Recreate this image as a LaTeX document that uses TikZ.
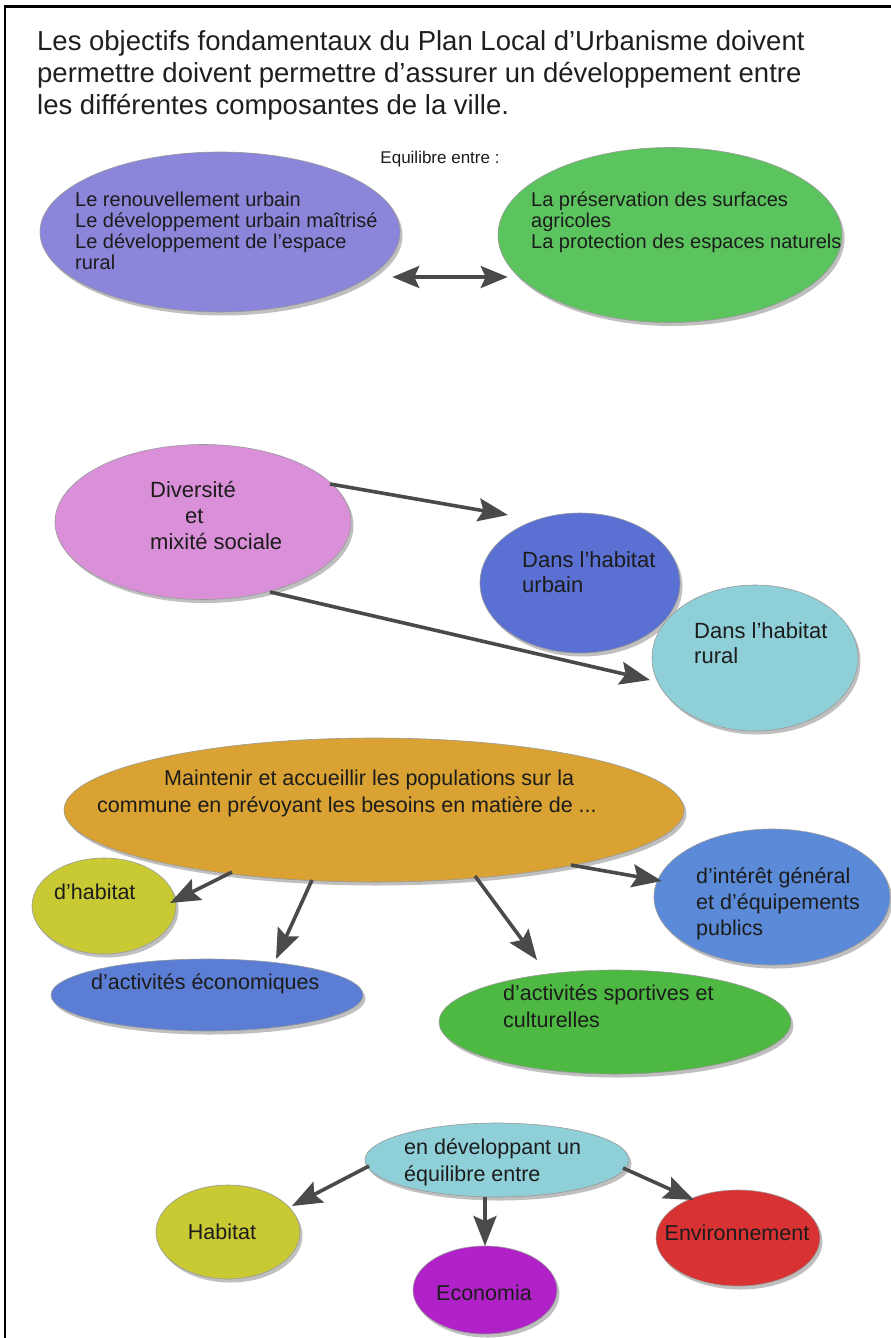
\documentclass[tikz,border=0pt]{standalone}
\usepackage{fontspec}
\setmainfont{Liberation Sans}
\usetikzlibrary{shapes.geometric,arrows.meta,calc,shadows}
\definecolor{cPurple}{HTML}{8C86DA}
\definecolor{cGreen}{HTML}{5CC45E}
\definecolor{cPink}{HTML}{D990D8}
\definecolor{cBlueA}{HTML}{5A70D2}
\definecolor{cCyan}{HTML}{8FD0D8}
\definecolor{cOrange}{HTML}{D9A232}
\definecolor{cYellow}{HTML}{C9C934}
\definecolor{cBlueB}{HTML}{5B7ED4}
\definecolor{cGreenB}{HTML}{4DB842}
\definecolor{cBlueC}{HTML}{5B8AD8}
\definecolor{cViolet}{HTML}{B022C8}
\definecolor{cRed}{HTML}{D83232}
\definecolor{cArrow}{HTML}{4A4A4A}
\definecolor{cText}{HTML}{1C1C1C}
\newcommand\setfs[2]{\fontsize{#1}{#2}\selectfont\lineskiplimit=-40pt\relax}
\newcommand\fst{\rule{0pt}{1em}}
\tikzset{
  bubble/.style={ellipse, draw=black!40, line width=0.6pt, inner sep=0pt,
    drop shadow={shadow xshift=2.5pt, shadow yshift=-3.5pt, opacity=0.25, fill=black}},
  tx/.style={inner sep=0pt, align=left, text=cText, anchor=north west},
  tx1/.style={inner sep=0pt, text=cText, anchor=base west, font=\setfs{21.5}{26}},
  arr/.style={draw=cArrow, line width=3.6pt, -{Stealth[length=30pt,width=23pt,inset=5pt]}},
  dblarr/.style={draw=cArrow, line width=3.8pt, {Stealth[length=27pt,width=22pt,inset=5pt]}-{Stealth[length=27pt,width=22pt,inset=5pt]}}
}
\begin{document}
\begin{tikzpicture}[x=1pt,y=-1pt]
\useasboundingbox (0,0) rectangle (891,1338);
\fill[white] (0,0) rectangle (891,1338);
\draw[line width=2.2pt] (5,1338) -- (5,6.5) -- (891,6.5);

% title
\node[tx, font=\setfs{27.5}{32}, text=black!88] (title) at (37,23)
 {\fst Les objectifs fondamentaux du Plan Local d’Urbanisme doivent\\
  permettre doivent permettre d’assurer un développement entre\\
  les différentes composantes de la ville.};

\node[inner sep=0pt, anchor=base, font=\setfs{17}{20}, text=cText] (eq) at (440,163) {Equilibre entre :};

% block 1
\node[bubble, fill=cPurple, minimum width=360pt, minimum height=160pt] (purple) at (220,232) {};
\node[tx, font=\setfs{20}{21}] (purpletxt) at (75,186)
 {\fst Le renouvellement urbain\\Le développement urbain maîtrisé\\Le développement de l’espace\\rural};
\node[bubble, fill=cGreen, minimum width=344pt, minimum height=175pt] (green) at (670,235) {};
\node[tx, font=\setfs{20}{21}] (greentxt) at (531,186)
 {\fst La préservation des surfaces\\agricoles\\La protection des espaces naturels};
\draw[dblarr] ([yshift=-45pt,xshift=-8pt]purple.east) -- ([yshift=-42pt,xshift=10pt]green.west);

% block 2
\node[bubble, fill=cPink, minimum width=296pt, minimum height=155pt] (pink) at (203,522) {};
\node[tx, font=\setfs{22}{26}] (pinktxt) at (150,475)
 {\fst Diversité\\\hspace*{35pt}et\\mixité sociale};
\node[bubble, fill=cBlueA, minimum width=200pt, minimum height=140pt] (urbain) at (580,583) {};
\node[tx, font=\setfs{22}{25}] (urbaintxt) at (522,545) {\fst Dans l’habitat\\urbain};
\node[bubble, fill=cCyan, minimum width=206pt, minimum height=146pt] (rural) at (755,658) {};
\node[tx, font=\setfs{22}{25}] (ruraltxt) at (694,616) {\fst Dans l’habitat\\rural};
\draw[arr] ($(pink)+(127,-38)$) -- ($(urbain)+(-72,-68)$);
\draw[arr] ($(pink)+(67,70)$) -- ($(rural)+(-105,22)$);

% block 3
\node[bubble, fill=cOrange, minimum width=620pt, minimum height=144pt] (orange) at (374,810) {};
\node[tx, font=\setfs{21.5}{27}] (orangetxt) at (97,763.5)
 {\fst\hspace*{67pt}Maintenir et accueillir les populations sur la\\commune en prévoyant les besoins en matière de ...};
\node[bubble, fill=cYellow, minimum width=144pt, minimum height=96pt] (hab1) at (104,906) {};
\node[tx1] (hab1txt) at (54,899) {d’habitat};
\node[bubble, fill=cBlueB, minimum width=312pt, minimum height=72pt] (eco1) at (207,995) {};
\node[tx1] (eco1txt) at (91,989) {d’activités économiques};
\node[bubble, fill=cGreenB, minimum width=352pt, minimum height=104pt] (sport) at (615,1022) {};
\node[tx, font=\setfs{21.5}{27}] (sporttxt) at (503,978.5) {\fst d’activités sportives et\\culturelles};
\node[bubble, fill=cBlueC, minimum width=236pt, minimum height=136pt] (interet) at (772,897) {};
\node[tx, font=\setfs{21.5}{26}] (interettxt) at (696,861.5) {\fst d’intérêt général\\et d’équipements\\publics};
\draw[arr] ($(orange)+(-142,62)$) -- ($(hab1)+(66,-3)$);
\draw[arr] ($(orange)+(-62,70)$) -- ($(eco1)+(69,-36)$);
\draw[arr] ($(orange)+(101,66)$) -- ($(sport)+(-78,-62)$);
\draw[arr] ($(orange)+(197,55)$) -- ($(interet)+(-110,-16)$);

% block 4
\node[bubble, fill=cCyan, minimum width=264pt, minimum height=74pt] (endev) at (497,1160) {};
\node[tx, font=\setfs{21.5}{27}] (endevtxt) at (404,1132.5) {\fst en développant un\\équilibre entre};
\node[bubble, fill=cYellow, minimum width=144pt, minimum height=94pt] (hab2) at (228,1232) {};
\node[tx1, anchor=base] (hab2txt) at (222,1239) {Habitat};
\node[bubble, fill=cViolet, minimum width=144pt, minimum height=88pt] (economia) at (485,1290) {};
\node[tx1, anchor=base] (economiatxt) at (484,1300) {Economia};
\node[bubble, fill=cRed, minimum width=164pt, minimum height=96pt] (env) at (738,1238) {};
\node[tx1, anchor=base] (envtxt) at (737,1240) {Environnement};
\draw[arr] ($(endev)+(-128,6)$) -- ($(hab2)+(64,-26)$);
\draw[arr] ($(endev)+(-12,37)$) -- ($(economia)+(0,-44)$);
\draw[arr] ($(endev)+(126,8)$) -- ($(env)+(-44,-38)$);
\end{tikzpicture}
\end{document}
